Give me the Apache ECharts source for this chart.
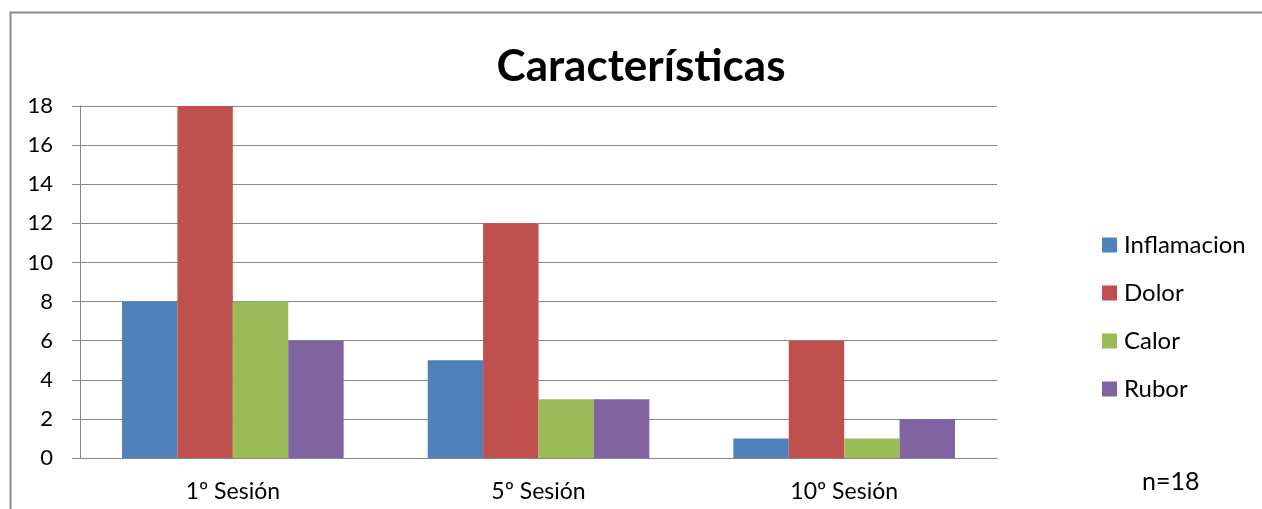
<!DOCTYPE html>
<html>
<head>
<meta charset="utf-8">
<script src="https://cdn.jsdelivr.net/npm/echarts@6/dist/echarts.min.js"></script>
<style>
  html, body { margin: 0; padding: 0; background: #fff; }
  #chart { width: 1262px; height: 509px; }
</style>
</head>
<body>
<div id="chart"></div>
<script>
// Sessions on the x axis and the four observed signs
const categories = ['1º Sesión', '5º Sesión', '10º Sesión'];
const inflamacion = [8, 5, 1];
const dolor = [18, 12, 6];
const calor = [8, 3, 1];
const rubor = [6, 3, 2];
const yTicks = [0, 2, 4, 6, 8, 10, 12, 14, 16, 18];

const font = 'Lato, "Open Sans", sans-serif';
const seriesDefs = [
  { name: 'Inflamacion', data: inflamacion, color: '#4F81BD' },
  { name: 'Dolor', data: dolor, color: '#C0504D' },
  { name: 'Calor', data: calor, color: '#9BBB59' },
  { name: 'Rubor', data: rubor, color: '#8064A2' }
];

const chart = echarts.init(document.getElementById('chart'), null, { renderer: 'canvas' });
chart.setOption({
  animation: false,
  backgroundColor: '#fff',
  title: {
    text: 'Características',
    left: 636,
    textAlign: 'center',
    top: 40,
    textStyle: { fontFamily: font, fontWeight: 'bold', fontSize: 44, color: '#000' }
  },
  legend: {
    orient: 'vertical',
    left: 1097,
    top: 228,
    itemWidth: 15,
    itemHeight: 15,
    itemGap: 24,
    icon: 'rect',
    textStyle: { fontFamily: font, fontSize: 24, color: '#000', padding: [0, 0, 0, 2] },
    data: seriesDefs.map(s => s.name)
  },
  graphic: [
    {
      type: 'rect',
      shape: { x: 10.5, y: 12.5, width: 1300, height: 600 },
      style: { fill: 'none', stroke: '#8c8c8c', lineWidth: 2 },
      silent: true
    },
    {
      type: 'text',
      left: 1142,
      top: 469,
      style: { text: 'n=18', fontFamily: font, fontSize: 25, fill: '#000' }
    }
  ],
  grid: { left: 80, right: 265, top: 106, bottom: 51, containLabel: false },
  xAxis: {
    type: 'category',
    data: categories,
    axisLine: { lineStyle: { color: '#868686', width: 1 } },
    axisTick: { length: 6, lineStyle: { color: '#868686' } },
    axisLabel: { fontFamily: font, fontSize: 23, color: '#000', margin: 22 }
  },
  yAxis: {
    type: 'value',
    min: yTicks[0],
    max: yTicks[yTicks.length - 1],
    interval: 2,
    axisLine: { show: true, lineStyle: { color: '#868686', width: 1 } },
    axisTick: { show: true, length: 8, lineStyle: { color: '#868686' } },
    axisLabel: { fontFamily: font, fontSize: 22, color: '#000', margin: 27 },
    splitLine: { lineStyle: { color: '#868686', width: 1 } }
  },
  series: seriesDefs.map(s => ({
    name: s.name,
    type: 'bar',
    data: s.data,
    barGap: '0%',
    barCategoryGap: '27.5%',
    itemStyle: { color: s.color }
  }))
});
</script>
</body>
</html>
